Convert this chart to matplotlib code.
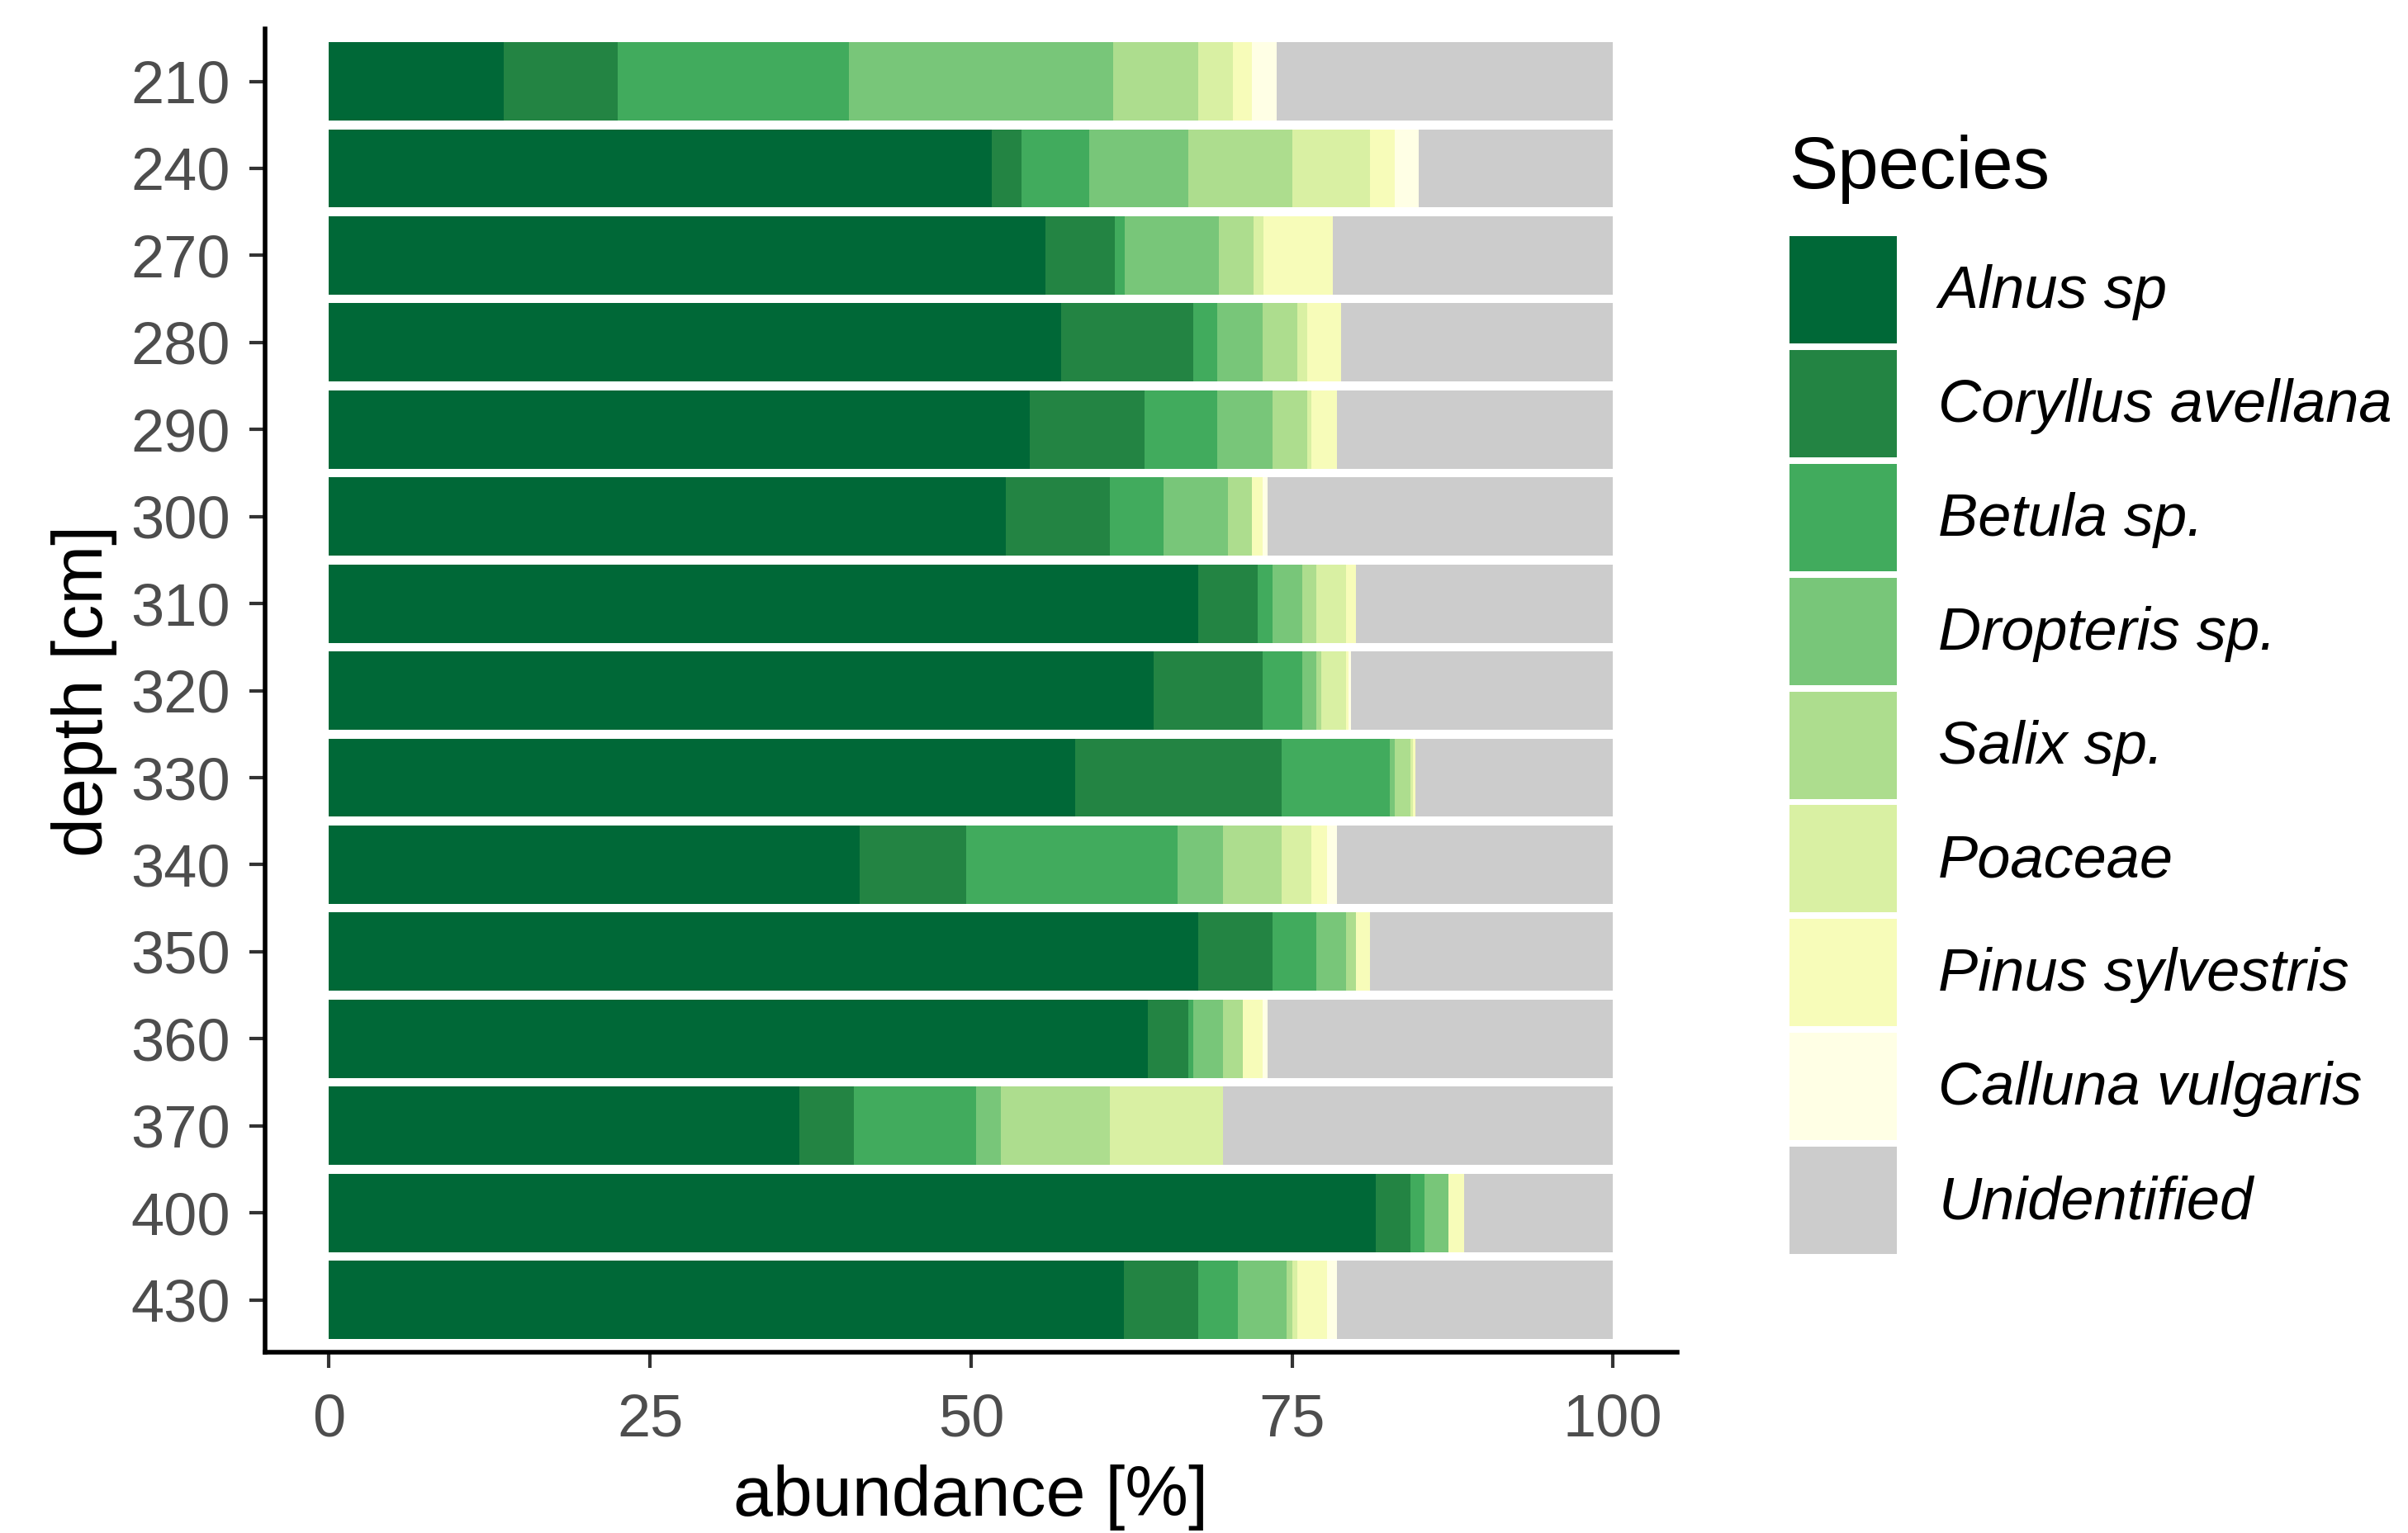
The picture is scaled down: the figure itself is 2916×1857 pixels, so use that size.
#!/usr/bin/env python3
"""Pollen abundance per depth, drawn as horizontal stacked bars."""

import numpy as np
import matplotlib
matplotlib.use("Agg")
import matplotlib.pyplot as plt
from matplotlib.patches import Patch

plt.rcParams.update({
    "font.family": ["Liberation Sans", "DejaVu Sans"],
    "axes.linewidth": 2.0,
})

depths = ["210", "240", "270", "280", "290", "300", "310", "320",
          "330", "340", "350", "360", "370", "400", "430"]

species = ["Alnus sp", "Coryllus avellana", "Betula sp.", "Dropteris sp.",
           "Salix sp.", "Poaceae", "Pinus sylvestris", "Calluna vulgaris",
           "Unidentified"]

alnus = [13.6, 51.6, 55.8, 57.0, 54.6, 52.7, 67.7, 64.2, 58.1, 41.3, 67.7, 63.8, 36.6, 81.5, 61.9]
corylus = [8.9, 2.3, 5.4, 10.3, 8.9, 8.1, 4.6, 8.5, 16.1, 8.3, 5.8, 3.1, 4.3, 2.7, 5.8]
betula = [18.0, 5.3, 0.8, 1.9, 5.7, 4.2, 1.2, 3.1, 8.4, 16.5, 3.4, 0.4, 9.5, 1.1, 3.1]
dropteris = [20.6, 7.7, 7.3, 3.5, 4.3, 5.0, 2.3, 1.1, 0.4, 3.5, 2.3, 2.3, 1.9, 1.9, 3.8]
salix = [6.6, 8.1, 2.7, 2.7, 2.7, 1.9, 1.1, 0.4, 1.2, 4.6, 0.8, 1.6, 8.5, 0.0, 0.4]
poaceae = [2.7, 6.1, 0.8, 0.8, 0.3, 0.0, 2.3, 1.9, 0.2, 2.3, 0.0, 0.0, 8.8, 0.0, 0.4]
pinus = [1.5, 1.9, 5.4, 2.6, 2.0, 0.8, 0.8, 0.2, 0.2, 1.2, 1.1, 1.5, 0.0, 1.2, 2.3]
calluna = [1.9, 1.9, 0.0, 0.0, 0.0, 0.4, 0.0, 0.2, 0.0, 0.8, 0.0, 0.4, 0.0, 0.0, 0.8]
unidentified = [26.2, 15.1, 21.8, 21.2, 21.5, 26.9, 20.0, 20.4, 15.4, 21.5, 18.9, 26.9, 30.4, 11.6, 21.5]

colors = ["#006837", "#238443", "#41ab5d", "#78c679", "#addd8e",
          "#d9f0a3", "#f7fcb9", "#ffffe5", "#cccccc"]

TICK_GREY = "#4d4d4d"


def main() -> None:
    series = [alnus, corylus, betula, dropteris, salix, poaceae,
              pinus, calluna, unidentified]

    fig = plt.figure(figsize=(14.58, 9.285), dpi=200)
    ax = fig.add_axes([0.110, 0.118, 0.5865, 0.863])

    y = np.arange(len(depths))
    left = np.zeros(len(depths))
    for name, vals, col in zip(species, series, colors):
        vals = np.asarray(vals, dtype=float)
        ax.barh(y, vals, left=left, height=0.9, color=col,
                edgecolor="none", label=name)
        left += vals

    ax.set_yticks(y)
    ax.set_yticklabels(depths)
    ax.set_ylim(len(depths) - 0.4, -0.6)
    ax.set_xlim(-5, 105)
    ax.set_xticks([0, 25, 50, 75, 100])

    for side in ("top", "right"):
        ax.spines[side].set_visible(False)
    ax.tick_params(axis="both", labelsize=26, labelcolor=TICK_GREY,
                   color="#333333", length=7, width=1.5, pad=8)
    ax.tick_params(axis="x", pad=11)

    ax.set_xlabel("abundance [%]", fontsize=31, labelpad=7)
    ax.set_ylabel("depth [cm]", fontsize=31, labelpad=6)

    # legend keys are big squares, like ggplot's guide
    handles = [Patch(facecolor=c, edgecolor="none") for c in colors]
    leg = fig.legend(handles, species, loc="upper left",
                     bbox_to_anchor=(0.743, 0.912), frameon=False,
                     fontsize=26, title="Species", title_fontsize=32,
                     handlelength=1.8, handleheight=2.39, labelspacing=0.11,
                     handletextpad=0.7, borderpad=0, borderaxespad=0)
    leg._legend_box.align = "left"
    leg._legend_box.sep = 14
    for txt in leg.get_texts():
        txt.set_fontstyle("italic")

    fig.savefig("out.png", dpi=200)
    plt.close(fig)


if __name__ == "__main__":
    main()
